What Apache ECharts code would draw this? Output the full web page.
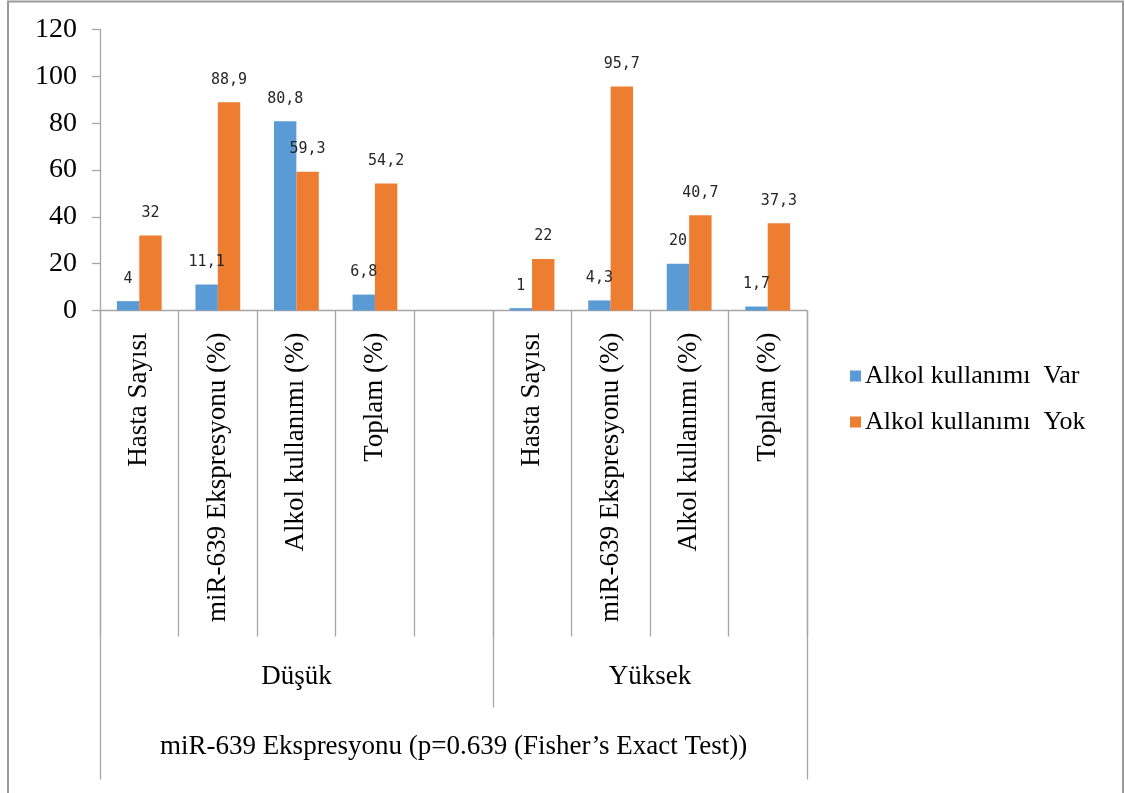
<!DOCTYPE html>
<html>
<head>
<meta charset="utf-8">
<script src="https://cdn.jsdelivr.net/npm/echarts@6/dist/echarts.min.js"></script>
<style>
  html, body { margin: 0; padding: 0; background: #fff; }
  #chart { width: 1125px; height: 793px; }
</style>
</head>
<body>
<div id="chart"></div>
<script>
// Sub-categories along the x axis (blank slot separates the two groups)
const categories = [
  'Hasta Sayısı', 'miR-639 Ekspresyonu (%)', 'Alkol kullanımı (%)', 'Toplam (%)',
  '',
  'Hasta Sayısı', 'miR-639 Ekspresyonu (%)', 'Alkol kullanımı (%)', 'Toplam (%)'
];
// Expression groups and where their labels sit (in category-slot units)
const groupNames = ['Düşük', 'Yüksek'];
const groupCenters = [2.5, 7];
const groupDivider = [5];
const outerEdges = [0, 9];
const axisTitle = 'miR-639 Ekspresyonu (p=0.639 (Fisher’s Exact Test))';

const seriesNames = ['Alkol kullanımı  Var', 'Alkol kullanımı  Yok'];
const alkolVar = [4, 11.1, 80.8, 6.8, '-', 1, 4.3, 20, 1.7];
const alkolYok = [32, 88.9, 59.3, 54.2, '-', 22, 95.7, 40.7, 37.3];

const yTicks = { min: 0, max: 120, interval: 20 };

const SERIF = '"Liberation Serif", "Times New Roman", serif';
const GRID_COLOR = '#a6a6a6';

const chart = echarts.init(document.getElementById('chart'));

const barLabel = {
  show: true,
  position: 'top',
  distance: 15,
  fontFamily: '"DejaVu Sans Mono", monospace',
  fontSize: 15,
  color: '#262626',
  formatter: p => String(p.value).replace('.', ',')
};

const plainValueAxis = {
  type: 'value',
  gridIndex: 0,
  position: 'bottom',
  min: 0,
  max: categories.length,
  axisLine: { show: false },
  splitLine: { show: false }
};

chart.setOption({
  animation: false,
  backgroundColor: '#fff',
  graphic: [{
    type: 'rect',
    silent: true,
    z: -1,
    shape: { x: 8, y: 1.5, width: 1115, height: 900 },
    style: { fill: 'none', stroke: '#9a9a9a', lineWidth: 2 }
  }],
  grid: { left: 100, right: 318, top: 29.5, bottom: 482.5 },
  legend: {
    orient: 'vertical',
    left: 845,
    top: 358,
    itemWidth: 11,
    itemHeight: 11,
    itemGap: 20,
    icon: 'rect',
    data: seriesNames,
    textStyle: { fontFamily: SERIF, fontSize: 26, color: '#000', padding: [0, 0, 0, -1] }
  },
  xAxis: [
    {
      type: 'category',
      data: categories,
      axisLine: { lineStyle: { color: GRID_COLOR, width: 1.3 } },
      axisTick: { show: true, interval: 0, length: 326, lineStyle: { color: GRID_COLOR, width: 1.3 } },
      axisLabel: {
        interval: 0,
        rotate: 90,
        margin: 22,
        fontFamily: SERIF,
        fontSize: 27,
        color: '#000'
      }
    },
    Object.assign({}, plainValueAxis, {
      axisTick: { show: true, customValues: groupDivider, length: 397, lineStyle: { color: GRID_COLOR, width: 1.3 } },
      axisLabel: {
        customValues: groupCenters,
        margin: 353,
        fontFamily: SERIF,
        fontSize: 27,
        color: '#000',
        formatter: v => groupNames[v < groupDivider[0] ? 0 : 1]
      }
    }),
    Object.assign({}, plainValueAxis, {
      axisTick: { show: true, customValues: outerEdges, length: 469, lineStyle: { color: GRID_COLOR, width: 1.3 } },
      axisLabel: { show: false },
      name: axisTitle,
      nameLocation: 'middle',
      nameGap: 423,
      nameTextStyle: { fontFamily: SERIF, fontSize: 27, color: '#000' }
    })
  ],
  yAxis: {
    type: 'value',
    min: yTicks.min,
    max: yTicks.max,
    interval: yTicks.interval,
    axisLine: { show: true, lineStyle: { color: GRID_COLOR, width: 1.3 } },
    axisTick: { show: true, length: 8, lineStyle: { color: GRID_COLOR, width: 1.3 } },
    splitLine: { show: false },
    axisLabel: { margin: 23, fontFamily: SERIF, fontSize: 28, color: '#000' }
  },
  series: [
    {
      name: seriesNames[0],
      type: 'bar',
      xAxisIndex: 0,
      data: alkolVar,
      barGap: '0%',
      barCategoryGap: '43%',
      itemStyle: { color: '#5b9bd5' },
      label: barLabel
    },
    {
      name: seriesNames[1],
      type: 'bar',
      xAxisIndex: 0,
      data: alkolYok,
      barGap: '0%',
      barCategoryGap: '43%',
      itemStyle: { color: '#ed7d31' },
      label: barLabel
    }
  ]
});
</script>
</body>
</html>
